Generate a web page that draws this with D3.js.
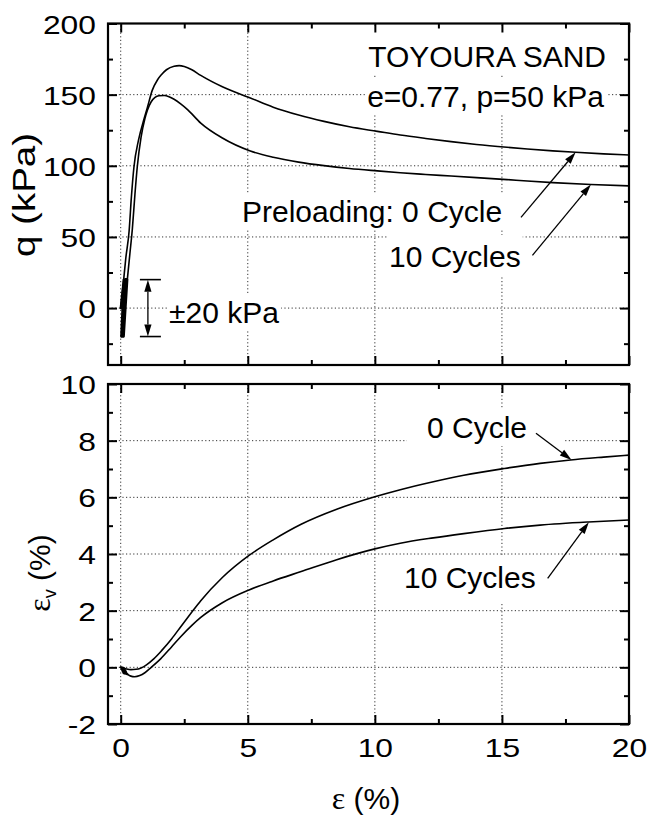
<!DOCTYPE html>
<html>
<head>
<meta charset="utf-8">
<script src="https://cdn.jsdelivr.net/npm/d3@7/dist/d3.min.js"></script>
<style>
  body { margin: 0; background: #fff; }
  text { font-family: "Liberation Sans", Arial, sans-serif; fill: #000; }
</style>
</head>
<body>
<svg id="chart" width="647" height="816"></svg>
<script>
// ---- Monotonic loading, Toyoura sand (e = 0.77, p = 50 kPa) ----
// Deviator stress q (kPa) against axial strain (%)
const strain0 = [0, 0.1, 0.2, 0.33, 0.42, 0.52, 0.7, 0.92, 1.05, 1.24, 1.45, 1.6, 1.8, 2.1, 2.3, 2.5, 2.8, 3.15, 4.0, 5.1, 6, 7, 8, 9, 10.1, 11, 12, 13, 14, 15.2, 16, 17, 17.9, 19, 20];
const q0      = [0, 17, 35, 54, 78, 99, 118, 133, 141, 153, 160.5, 164, 167.5, 170, 170.4, 169.8, 167.5, 163.5, 155.5, 147.7, 141.2, 135.7, 131.2, 127.4, 124.2, 121.6, 119.2, 117, 115, 113, 111.8, 110.5, 109.5, 108.4, 107.6];

const strain10 = [0.26, 0.36, 0.46, 0.56, 0.65, 0.8, 0.95, 1.05, 1.2, 1.35, 1.5, 1.71, 1.9, 2.1, 2.36, 2.63, 3.15, 4.0, 5.1, 6, 7, 8, 9, 10.1, 11, 12, 13, 14, 15.2, 16, 17, 18.5, 20];
const q10      = [20, 38, 56, 80, 99, 120, 133, 139, 145, 148, 149.2, 149.4, 148.6, 146.8, 143.5, 139.5, 130, 119.5, 110.4, 106, 102.6, 100.1, 98.1, 96.4, 95.1, 93.9, 92.8, 91.7, 90.3, 89.3, 88.2, 86.8, 85.9];

// Volumetric strain (%) against axial strain (%)
const evStrain0 = [0, 0.2, 0.4, 0.6, 0.8, 1.0, 1.3, 1.6, 2.0, 2.4, 2.8, 3.15, 4.0, 5.05, 6, 7.1, 8.5, 10.0, 11, 12.3, 13.5, 15.1, 16.5, 17.7, 19, 20];
const ev0       = [0, -0.05, -0.08, -0.07, -0.02, 0.08, 0.3, 0.58, 1.0, 1.48, 1.95, 2.35, 3.17, 3.95, 4.5, 5.05, 5.58, 6.02, 6.27, 6.55, 6.78, 7.02, 7.2, 7.32, 7.42, 7.49];

const evStrain10 = [0.26, 0.4, 0.55, 0.75, 0.95, 1.2, 1.57, 2.0, 2.36, 2.8, 3.15, 4.0, 5.05, 6, 7.1, 8.5, 10.0, 11, 12.3, 13.5, 15.1, 16.5, 18.4, 20];
const ev10       = [-0.24, -0.31, -0.33, -0.29, -0.19, 0.0, 0.3, 0.72, 1.08, 1.48, 1.76, 2.28, 2.73, 3.05, 3.38, 3.8, 4.18, 4.38, 4.57, 4.72, 4.9, 5.02, 5.13, 5.2];

// Ten preloading cycles of +/-20 kPa before shearing
const preloadStrain = [0.00, 0.12, 0.02, 0.14, 0.04, 0.16, 0.05, 0.18, 0.06, 0.19, 0.07, 0.20, 0.08, 0.21, 0.09, 0.22, 0.10, 0.23, 0.11, 0.24, 0.12, 0.26];
const preloadQ      = [0, 20, -20, 20, -20, 20, -20, 20, -20, 20, -20, 20, -20, 20, -20, 20, -20, 20, -20, 20, -20, 20];
const preloadEv     = [0, -0.03, -0.02, -0.06, -0.05, -0.09, -0.08, -0.11, -0.10, -0.13, -0.12, -0.15, -0.14, -0.17, -0.16, -0.19, -0.18, -0.21, -0.20, -0.22, -0.21, -0.24];
const preloadAmplitude = 20;

// Axis ticks
const strainMajor = [0, 5, 10, 15, 20];
const strainMinor = [2.5, 7.5, 12.5, 17.5];
const strainGrid  = [0, 5, 10, 15];
const qMajor = [0, 50, 100, 150, 200];
const qMinor = [-25, 25, 75, 125, 175];
const qGrid  = [0, 50, 100, 150];
const evMajor = [-2, 0, 2, 4, 6, 8, 10];
const evMinor = [-1, 1, 3, 5, 7, 9];
const evGrid  = [0, 2, 4, 6, 8];

// Arrow annotations: [tail strain, tail value, tip strain, tip value]
const qArrows  = [[15.75, 63.8, 17.9, 109.5], [16.2, 37, 18.5, 86.8]];
const evArrows = [[16.34, 8.26, 17.74, 7.32], [16.8, 3.14, 18.42, 5.12]];

// ---- Layout ----
const svg = d3.select('#chart');
const x  = d3.scaleLinear().domain([-0.5, 20]).range([108, 629]);
const yq = d3.scaleLinear().domain([-40, 200]).range([365, 23.5]);
const yv = d3.scaleLinear().domain([-2, 10]).range([724, 384]);
const [xL, xR] = x.range();

const gridLayer  = svg.append('g');
const noteLayer  = svg.append('g');
const curveLayer = svg.append('g');
const frameLayer = svg.append('g');

function drawPanel(y, major, minor, grid, showX) {
  const [yB, yT] = y.range();
  // dotted grid
  gridLayer.append('g').selectAll('line').data(grid).join('line')
    .attr('x1', xL).attr('x2', xR).attr('y1', d => y(d)).attr('y2', d => y(d))
    .attr('stroke', '#333').attr('stroke-width', 1).attr('stroke-dasharray', '1.2,2.4');
  gridLayer.append('g').selectAll('line').data(strainGrid).join('line')
    .attr('x1', d => x(d)).attr('x2', d => x(d)).attr('y1', yB).attr('y2', yT)
    .attr('stroke', '#333').attr('stroke-width', 1).attr('stroke-dasharray', '1.2,2.4');

  const tickAxis = (gen, tx, ty, vals, len) => {
    const g = frameLayer.append('g').attr('transform', `translate(${tx},${ty})`)
      .call(gen.tickValues(vals).tickSize(-len).tickSizeOuter(0).tickFormat(''));
    g.select('.domain').remove();
    g.selectAll('line').attr('stroke', '#000').attr('stroke-width', 2);
  };
  tickAxis(d3.axisBottom(x), 0, yB, strainMajor, 9);
  tickAxis(d3.axisBottom(x), 0, yB, strainMinor, 5);
  tickAxis(d3.axisTop(x), 0, yT, strainMajor, 9);
  tickAxis(d3.axisTop(x), 0, yT, strainMinor, 5);
  tickAxis(d3.axisLeft(y), xL, 0, major, 9);
  tickAxis(d3.axisLeft(y), xL, 0, minor, 5);
  tickAxis(d3.axisRight(y), xR, 0, major, 9);
  tickAxis(d3.axisRight(y), xR, 0, minor, 5);

  // frame
  frameLayer.append('rect').attr('x', xL).attr('y', yT).attr('width', xR - xL).attr('height', yB - yT)
    .attr('fill', 'none').attr('stroke', '#000').attr('stroke-width', 2.2);

  // y tick labels
  const gl = frameLayer.append('g').attr('transform', `translate(${xL},0)`)
    .call(d3.axisLeft(y).tickValues(major).tickSize(0).tickFormat(d => String(d)));
  gl.select('.domain').remove();
  gl.selectAll('text').attr('x', 0).attr('dy', null)
    .attr('transform', 'translate(-12,9.5) scale(1.2,1)')
    .attr('font-size', 26.5).attr('font-family', '"Liberation Sans", Arial, sans-serif');

  if (showX) {
    const gx = frameLayer.append('g').attr('transform', `translate(0,${yB})`)
      .call(d3.axisBottom(x).tickValues(strainMajor).tickSize(0).tickFormat(d => String(d)));
    gx.select('.domain').remove();
    gx.selectAll('text').attr('y', 0).attr('dy', null)
      .attr('transform', 'translate(0,33) scale(1.2,1)')
      .attr('font-size', 26.5).attr('font-family', '"Liberation Sans", Arial, sans-serif');
  }
}

drawPanel(yq, qMajor, qMinor, qGrid, false);
drawPanel(yv, evMajor, evMinor, evGrid, true);

// ---- Curves ----
const lineOf = (xs, ys, y, curve) => d3.line().x((d, i) => x(xs[i])).y((d, i) => y(ys[i])).curve(curve)(xs);
const drawCurve = (xs, ys, y, w, curve) => curveLayer.append('path')
  .attr('d', lineOf(xs, ys, y, curve || d3.curveMonotoneX))
  .attr('fill', 'none').attr('stroke', '#000').attr('stroke-width', w)
  .attr('stroke-linejoin', 'round').attr('stroke-linecap', 'round');

drawCurve(preloadStrain, preloadQ, yq, 2.2, d3.curveLinear);
drawCurve(strain0, q0, yq, 1.6);
drawCurve(strain10, q10, yq, 1.6);
drawCurve(preloadStrain, preloadEv, yv, 2.2, d3.curveLinear);
drawCurve(evStrain0, ev0, yv, 1.6);
drawCurve(evStrain10, ev10, yv, 1.6);

// ---- Annotations ----
function note(t, px, py, opts = {}) {
  const g = noteLayer.append('g');
  const txt = g.append('text').attr('x', px).attr('y', py).attr('font-size', opts.size || 30)
    .attr('text-anchor', opts.anchor || 'start').text(t);
  const b = txt.node().getBBox();
  const pl = opts.pl ?? 2, pr = opts.pr ?? 2, pt = opts.pt ?? 2, pb = opts.pb ?? 2;
  g.insert('rect', 'text').attr('x', b.x - pl).attr('y', b.y - pt)
    .attr('width', b.width + pl + pr).attr('height', b.height + pt + pb).attr('fill', '#fff');
}
note('TOYOURA SAND', 606, 67, { anchor: 'end', pt: 14 });
note('e=0.77, p=50 kPa', 604, 107, { anchor: 'end' });
note('Preloading: 0 Cycle', 242, 222);
note('10 Cycles', 389, 267, { pt: 5 });
note('\u00b120 kPa', 169, 323);
note('0 Cycle', 427, 438, { pl: 20, pr: 36 });
note('10 Cycles', 404, 588, { pt: 5, pb: 8 });

function arrow(x1, y1, x2, y2) {
  const a = Math.atan2(y2 - y1, x2 - x1), len = 12, hw = 3.6;
  const bx = x2 - len * Math.cos(a), by = y2 - len * Math.sin(a);
  curveLayer.append('line').attr('x1', x1).attr('y1', y1).attr('x2', bx).attr('y2', by)
    .attr('stroke', '#000').attr('stroke-width', 1.3);
  curveLayer.append('path')
    .attr('d', `M${x2},${y2}L${bx + hw * Math.sin(a)},${by - hw * Math.cos(a)}L${bx - hw * Math.sin(a)},${by + hw * Math.cos(a)}Z`)
    .attr('fill', '#000');
}
qArrows.forEach(([s1, v1, s2, v2]) => arrow(x(s1), yq(v1), x(s2), yq(v2)));
evArrows.forEach(([s1, v1, s2, v2]) => arrow(x(s1), yv(v1), x(s2), yv(v2)));

// +/-20 kPa amplitude marker
const mx = x(1.07);
[preloadAmplitude, -preloadAmplitude].forEach(v => {
  curveLayer.append('line').attr('x1', mx - 8).attr('x2', mx + 13).attr('y1', yq(v)).attr('y2', yq(v))
    .attr('stroke', '#000').attr('stroke-width', 1.6);
});
arrow(mx, yq(0), mx, yq(preloadAmplitude));
arrow(mx, yq(0), mx, yq(-preloadAmplitude));

// ---- Axis titles ----
frameLayer.append('text').attr('transform', 'translate(35,195) rotate(-90)')
  .attr('text-anchor', 'middle').attr('font-size', 32)
  .attr('textLength', 124).attr('lengthAdjust', 'spacingAndGlyphs').text('q (kPa)');

const evTitle = frameLayer.append('text').attr('transform', 'translate(50,573) rotate(-90)')
  .attr('text-anchor', 'middle').attr('font-size', 30);
evTitle.append('tspan').attr('font-family', '"Liberation Serif", "Times New Roman", serif').attr('font-size', 32).text('\u03b5');
evTitle.append('tspan').attr('font-size', 18).attr('dy', 6).text('v');
evTitle.append('tspan').attr('dy', -6).text(' (%)');

const xTitle = frameLayer.append('text').attr('x', 366).attr('y', 809)
  .attr('text-anchor', 'middle').attr('font-size', 30);
xTitle.append('tspan').attr('font-family', '"Liberation Serif", "Times New Roman", serif').attr('font-size', 32).text('\u03b5');
xTitle.append('tspan').text(' (%)');
</script>
</body>
</html>
